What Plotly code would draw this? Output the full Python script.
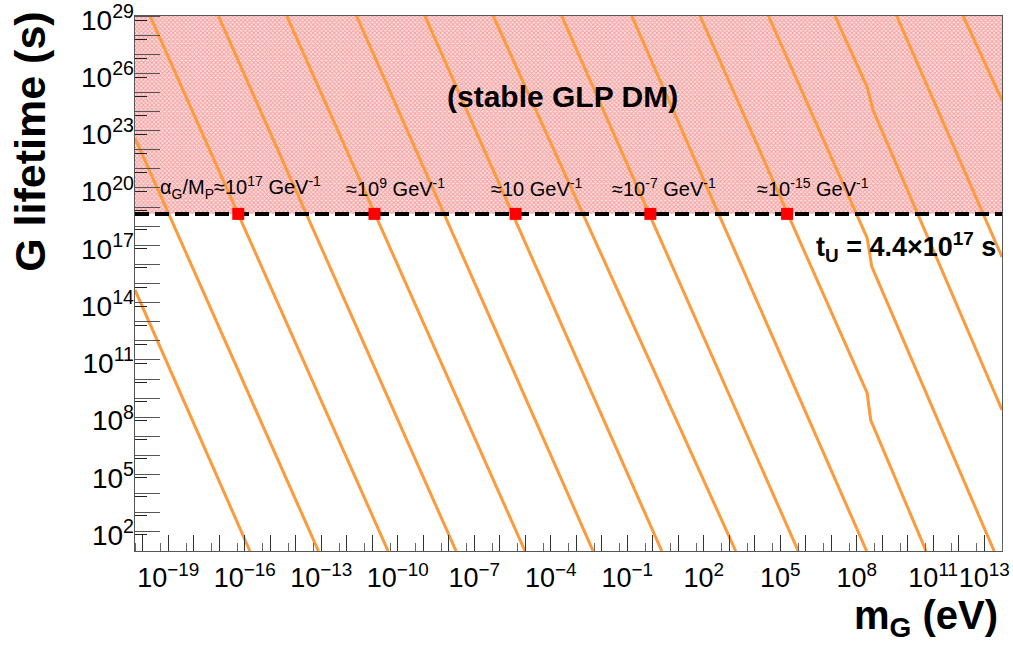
import math
import plotly.graph_objects as go

# ---------------------------------------------------------------------------
# Values
# ---------------------------------------------------------------------------
T_UNIVERSE = 4.4e17          # age of the Universe [s]

M_MIN, M_MAX = 5.0e-21, 5.0e13     # G mass range [eV]
TAU_MIN, TAU_MAX = 1.0, 1.0e28     # lifetime range [s]

# Lifetime curves (one per coupling alpha_G/M_P, couplings 1e4 apart).
# Each curve is a list of mass nodes [eV] and matching lifetimes [s].
curve_masses = [
    [5.0e-21, 1.6e-16],
    [5.0e-21, 7.8e-14],
    [1.95e-20, 4.2e-11],
    [9.3e-18, 1.95e-8],
    [4.5e-15, 9.8e-6],
    [2.45e-12, 4.6e-3],
    [1.17e-9, 2.27],
    [5.6e-7, 1.8e3],
    [2.7e-4, 5.1e5],
    [0.151, 2.45e8],
    [72.0, 2.57e8, 3.55e8, 5.25e10],
    [3.47e4, 2.57e8, 3.9e8, 2.45e13],
    [1.41e7, 2.57e8, 4.37e8, 5.0e13],
    [3.7e9, 5.0e13],
    [1.5e12, 5.0e13],
]
curve_lifetimes = [
    [4.6e13, 1.0],
    [4.1e21, 1.0],
    [1.0e28, 1.0],
    [1.0e28, 1.0],
    [1.0e28, 1.0],
    [1.0e28, 1.0],
    [1.0e28, 1.0],
    [1.0e28, 1.0],
    [1.0e28, 1.0],
    [1.0e28, 1.0],
    [1.0e28, 1.86e8, 7.2e6, 1.0],
    [1.0e28, 2.45e16, 7.6e14, 1.0],
    [1.0e28, 1.9e24, 1.2e23, 2.4e7],
    [1.0e28, 2.45e15],
    [1.0e28, 4.0e23],
]

# Masses at which the labelled couplings reach tau = t_U
marker_masses = [5.6e-17, 1.23e-11, 4.2e-6, 0.81, 1.86e5]
coupling_labels = [
    "α<sub>G</sub>/M<sub>P</sub>≈10<sup>17</sup> GeV<sup>-1</sup>",
    "≈10<sup>9</sup> GeV<sup>-1</sup>",
    "≈10 GeV<sup>-1</sup>",
    "≈10<sup>-7</sup> GeV<sup>-1</sup>",
    "≈10<sup>-15</sup> GeV<sup>-1</sup>",
]

# Tick labels
x_label_exps = [-19, -16, -13, -10, -7, -4, -1, 2, 5, 8, 11, 13]
y_label_exps = [2, 5, 8, 11, 14, 17, 20, 23, 26, 29]

# ---------------------------------------------------------------------------
# Styling / placement
# ---------------------------------------------------------------------------
FONT = "Liberation Sans, Arial, Helvetica, sans-serif"
ORANGE = "#fd9a3c"
label_pos_mass = [6.6e-17, 7.9e-11, 2.9e-5, 2.8, 1.95e6]   # label centres
label_pos_tau = 1.1e19
LABEL_AXIS_RANGE = [1.16, 29.21]   # log range of the labelled lifetime frame
X_LOG_RANGE = [math.log10(M_MIN), math.log10(M_MAX)]


def sup(exp):
    s = str(exp).replace("-", "−")
    return f"10<sup>{s}</sup>"


fig = go.Figure()

# stable-DM region (tau > t_U), hatched
fig.add_trace(go.Scatter(
    x=[M_MIN, M_MAX, M_MAX, M_MIN, M_MIN],
    y=[T_UNIVERSE, T_UNIVERSE, TAU_MAX, TAU_MAX, T_UNIVERSE],
    mode="none", fill="toself", fillcolor="#fbd0d0",
    fillpattern=dict(shape="x", size=3, solidity=0.5,
                     fgcolor="#ec5a5a", bgcolor="#fde0e0"),
    hoverinfo="skip", showlegend=False,
))

for xs, ys in zip(curve_masses, curve_lifetimes):
    fig.add_trace(go.Scatter(
        x=xs, y=ys, mode="lines",
        line=dict(color=ORANGE, width=3),
        hoverinfo="skip", showlegend=False,
    ))

# t_U line
fig.add_trace(go.Scatter(
    x=[M_MIN, M_MAX], y=[T_UNIVERSE, T_UNIVERSE], mode="lines",
    line=dict(color="black", width=4, dash="14px,6px"),
    hoverinfo="skip", showlegend=False,
))

fig.add_trace(go.Scatter(
    x=marker_masses, y=[T_UNIVERSE] * len(marker_masses), mode="markers",
    marker=dict(symbol="square", size=12, color="#ff0000"),
    hoverinfo="skip", showlegend=False,
))

# empty trace that registers the overlaid tick frame (x2, y2)
fig.add_trace(go.Scatter(x=[], y=[], xaxis="x2", yaxis="y2",
                         hoverinfo="skip", showlegend=False))

annotations = []
for m, txt in zip(label_pos_mass, coupling_labels):
    annotations.append(dict(
        x=math.log10(m), y=math.log10(label_pos_tau), xref="x", yref="y",
        text=txt, showarrow=False, xanchor="center", yanchor="middle",
        font=dict(family=FONT, size=20, color="black"),
    ))

mant, ex = f"{T_UNIVERSE:.1e}".split("e")
annotations += [
    dict(x=math.log10(3.5e13), y=math.log10(8.1e15), xref="x", yref="y",
         text=f"<b>t<sub>U</sub> = {mant}×10<sup>{int(ex)}</sup> s</b>",
         showarrow=False, xanchor="right", yanchor="middle",
         font=dict(family=FONT, size=27, color="black")),
    dict(x=math.log10(3.0e-4), y=math.log10(5.8e23), xref="x", yref="y",
         text="<b>(stable GLP DM)</b>", showarrow=False,
         xanchor="center", yanchor="middle",
         font=dict(family=FONT, size=30, color="black")),
    dict(x=-0.121, y=0.765, xref="paper", yref="paper",
         text="<b>G lifetime (s)</b>", textangle=-90, showarrow=False,
         xanchor="center", yanchor="middle",
         font=dict(family=FONT, size=43, color="black")),
    dict(x=0.998, y=-0.125, xref="paper", yref="paper",
         text="<b>m<sub>G</sub> (eV)</b>", showarrow=False,
         xanchor="right", yanchor="middle",
         font=dict(family=FONT, size=40, color="black")),
]

x_unlabelled = [k for k in range(-20, 14) if k not in x_label_exps]
y_unlabelled = [k for k in range(1, 30) if k not in y_label_exps]

fig.update_layout(
    width=1013, height=649,
    margin=dict(l=135, r=11, t=16, b=98, autoexpand=False),
    paper_bgcolor="white", plot_bgcolor="white",
    showlegend=False,
    font=dict(family=FONT, color="black"),
    annotations=annotations,
    xaxis=dict(
        type="log", range=X_LOG_RANGE, automargin=False,
        tickmode="array", tickvals=[10.0 ** k for k in x_label_exps],
        ticktext=[sup(k) for k in x_label_exps], tickangle=0,
        ticklabeloverflow="allow", ticklabelstandoff=3,
        ticks="inside", ticklen=16, tickwidth=1, tickcolor="#333",
        tickfont=dict(family=FONT, size=27, color="black"),
        minor=dict(tickmode="array",
                   tickvals=[10.0 ** k for k in x_unlabelled],
                   ticks="inside", ticklen=16, tickwidth=1, tickcolor="#333"),
        showline=True, linecolor="#555", linewidth=1, mirror=True,
        showgrid=False, zeroline=False,
    ),
    xaxis2=dict(
        type="log", range=X_LOG_RANGE, overlaying="x", side="bottom",
        anchor="y", automargin=False,
        tickmode="array", tickvals=[], showticklabels=False,
        minor=dict(tickmode="array",
                   tickvals=[5.0 * 10.0 ** k for k in range(-21, 14)],
                   ticks="inside", ticklen=8, tickwidth=1, tickcolor="#666"),
        showline=False, showgrid=False, zeroline=False,
    ),
    yaxis=dict(
        type="log", range=[math.log10(TAU_MIN), math.log10(TAU_MAX)],
        automargin=False,
        tickmode="array", tickvals=[], showticklabels=False,
        minor=dict(tickmode="array",
                   tickvals=[10.0 ** k for k in range(0, 29)],
                   ticks="inside", ticklen=25, tickwidth=1, tickcolor="#555"),
        showline=True, linecolor="#555", linewidth=1, mirror=True,
        showgrid=False, zeroline=False,
    ),
    yaxis2=dict(
        type="log", range=LABEL_AXIS_RANGE, overlaying="y", side="left",
        anchor="x", automargin=False,
        tickmode="array", tickvals=[10.0 ** k for k in y_label_exps],
        ticktext=[sup(k) for k in y_label_exps], ticklabeloverflow="allow",
        ticks="inside", ticklen=12, tickwidth=1, tickcolor="#222",
        tickfont=dict(family=FONT, size=28, color="black"),
        minor=dict(tickmode="array",
                   tickvals=[10.0 ** k for k in y_unlabelled],
                   ticks="inside", ticklen=12, tickwidth=1, tickcolor="#222"),
        showline=False, showgrid=False, zeroline=False,
    ),
)

fig.write_html("out.html")
